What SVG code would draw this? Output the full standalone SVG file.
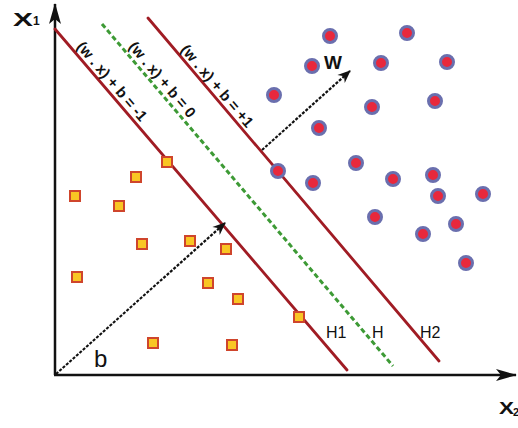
<svg xmlns="http://www.w3.org/2000/svg" width="518" height="428" viewBox="0 0 518 428">
  <defs>
    <style>
      .axis { stroke: #111; stroke-width: 2.5; fill: none; }
      .hp { stroke: #a01c24; stroke-width: 2.8; fill: none; stroke-linecap: round; }
      .hp0 { stroke: #3d9a35; stroke-width: 3; fill: none; stroke-dasharray: 5 3; }
      .vec { stroke: #111; stroke-width: 2.2; fill: none; stroke-dasharray: 3 1.5; }
      .sq { fill: #f9c623; stroke: #cf452c; stroke-width: 2; }
      .pt { fill: #e8283c; stroke: #6a6fae; stroke-width: 3; }
      .eq { font-family: "Liberation Sans", Arial, sans-serif; font-size: 15px; font-weight: bold; fill: #111; }
      .hl { font-family: "Liberation Sans", Arial, sans-serif; font-size: 16px; fill: #111; }
      .ax { font-family: "Liberation Sans", Arial, sans-serif; font-weight: bold; fill: #111; }
    </style>
    <marker id="axhead" markerUnits="userSpaceOnUse" markerWidth="24" markerHeight="16" viewBox="-22 -8 24 16" refX="0" refY="0" orient="auto">
      <path d="M1,0 L-20,-6 L-15,0 L-20,6 Z" fill="#111"/>
    </marker>
    <marker id="vhead" markerUnits="userSpaceOnUse" markerWidth="16" markerHeight="14" viewBox="-14 -7 16 14" refX="0" refY="0" orient="auto">
      <path d="M1,0 L-12,-5.5 L-8,0 L-12,5.5 Z" fill="#111"/>
    </marker>
  </defs>

  <rect x="0" y="0" width="518" height="428" fill="#ffffff"/>

  <g id="axes">
    <line class="axis" x1="55" y1="375" x2="55" y2="4" marker-end="url(#axhead)"/>
    <line class="axis" x1="54" y1="375" x2="516" y2="375" marker-end="url(#axhead)"/>
    <text class="ax" x="13" y="26" font-size="18" textLength="20" lengthAdjust="spacingAndGlyphs">X</text>
    <text class="ax" x="33" y="25" font-size="12" font-weight="normal">1</text>
    <text class="ax" x="499" y="414" font-size="16" textLength="15" lengthAdjust="spacingAndGlyphs">X</text>
    <text class="ax" x="513" y="416" font-size="11" font-weight="normal">2</text>
  </g>

  <g id="hyperplanes">
    <g id="H1">
      <line class="hp" x1="55" y1="29" x2="347" y2="370"/>
      <text class="hl" x="326" y="338">H1</text>
    </g>
    <g id="H">
      <line class="hp0" x1="102" y1="24" x2="393" y2="366"/>
      <text class="hl" x="372" y="338">H</text>
    </g>
    <g id="H2">
      <line class="hp" x1="148" y1="18" x2="439" y2="361"/>
      <text class="hl" x="420" y="338">H2</text>
    </g>
  </g>

  <g id="equations">
    <text class="eq" transform="translate(76,47) rotate(49.5)">(w . x) + b = -1</text>
    <text class="eq" transform="translate(128,47) rotate(49.7)">(w . x) + b = 0</text>
    <text class="eq" transform="translate(180,50) rotate(49.7)">(w . x) + b = +1</text>
  </g>

  <g id="squares">
    <rect class="sq" x="162" y="157" width="10" height="10"/>
    <rect class="sq" x="131" y="172" width="10" height="10"/>
    <rect class="sq" x="70" y="191" width="10" height="10"/>
    <rect class="sq" x="114" y="201" width="10" height="10"/>
    <rect class="sq" x="137" y="239" width="10" height="10"/>
    <rect class="sq" x="185" y="236" width="10" height="10"/>
    <rect class="sq" x="221" y="244" width="10" height="10"/>
    <rect class="sq" x="72" y="272" width="10" height="10"/>
    <rect class="sq" x="203" y="278" width="10" height="10"/>
    <rect class="sq" x="233" y="294" width="10" height="10"/>
    <rect class="sq" x="148" y="338" width="10" height="10"/>
    <rect class="sq" x="227" y="340" width="10" height="10"/>
    <rect class="sq" x="294" y="312" width="10" height="10"/>
  </g>

  <g id="circles">
    <circle class="pt" cx="330" cy="36" r="6.5"/>
    <circle class="pt" cx="407" cy="33" r="6.5"/>
    <circle class="pt" cx="312" cy="66" r="6.5"/>
    <circle class="pt" cx="381" cy="63" r="6.5"/>
    <circle class="pt" cx="447" cy="62" r="6.5"/>
    <circle class="pt" cx="274" cy="95" r="6.5"/>
    <circle class="pt" cx="372" cy="107" r="6.5"/>
    <circle class="pt" cx="435" cy="101" r="6.5"/>
    <circle class="pt" cx="319" cy="128" r="6.5"/>
    <circle class="pt" cx="278" cy="171" r="6.5"/>
    <circle class="pt" cx="356" cy="163" r="6.5"/>
    <circle class="pt" cx="313" cy="183" r="6.5"/>
    <circle class="pt" cx="393" cy="179" r="6.5"/>
    <circle class="pt" cx="433" cy="175" r="6.5"/>
    <circle class="pt" cx="438" cy="196" r="6.5"/>
    <circle class="pt" cx="483" cy="194" r="6.5"/>
    <circle class="pt" cx="375" cy="217" r="6.5"/>
    <circle class="pt" cx="423" cy="234" r="6.5"/>
    <circle class="pt" cx="456" cy="224" r="6.5"/>
    <circle class="pt" cx="466" cy="263" r="6.5"/>
  </g>

  <g id="connectors">
    <line class="vec" x1="56" y1="374" x2="225" y2="223" marker-end="url(#vhead)"/>
    <line class="vec" x1="262" y1="150" x2="350" y2="71" marker-end="url(#vhead)"/>
  </g>

  <g id="vector-labels">
    <text class="ax" x="324" y="69" font-size="19">W</text>
    <text x="94" y="367" font-family="Liberation Sans, Arial, sans-serif" font-size="24" fill="#111">b</text>
  </g>
</svg>
